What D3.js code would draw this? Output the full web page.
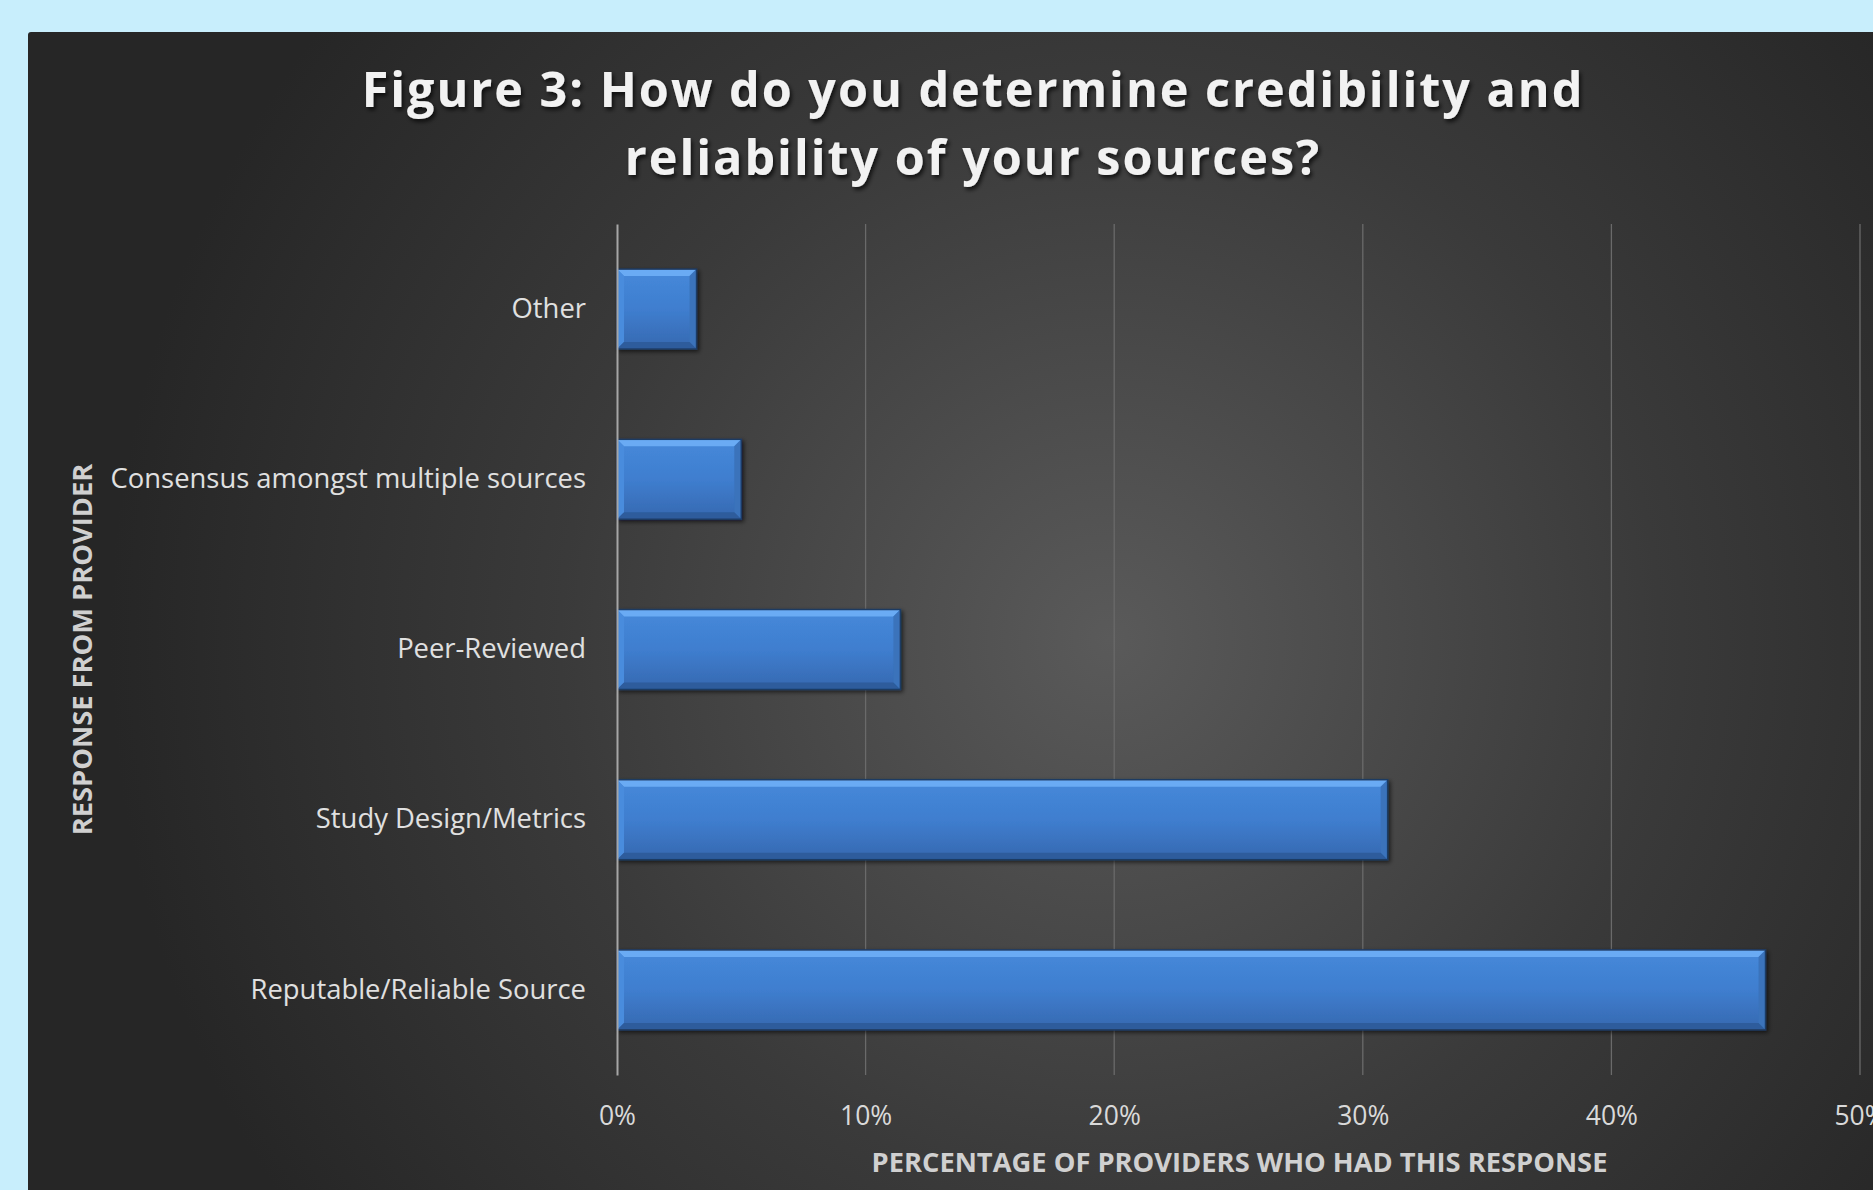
<!DOCTYPE html>
<meta charset="utf-8">
<script src="https://d3js.org/d3.v7.min.js"></script>
<style>
  html, body { margin: 0; padding: 0; background: #c8eefc; overflow: hidden; }
  svg { display: block; font-family: 'Open Sans', sans-serif; }
</style>
<body>
<div id="chart"></div>
<script>
  // data (percent of providers)
  var categories = ["Other", "Consensus amongst multiple sources", "Peer-Reviewed", "Study Design/Metrics", "Reputable/Reliable Source"];
  var values = [3.2, 5.0, 11.4, 31.0, 46.2];
  var tickValues = [0, 10, 20, 30, 40, 50];
  var titleLines = ["Figure 3: How do you determine credibility and", "reliability of your sources?"];
  var xTitle = "PERCENTAGE OF PROVIDERS WHO HAD THIS RESPONSE";
  var yTitle = "RESPONSE FROM PROVIDER";

  var W = 1873, H = 1190;
  var margin = { top: 224, right: 13, bottom: 115, left: 617 },
      width = W - margin.left - margin.right,
      height = H - margin.top - margin.bottom;

  var svg = d3.select("#chart").append("svg")
      .attr("width", W).attr("height", H);

  var defs = svg.append("defs");
  var bg = defs.append("radialGradient").attr("id", "bg")
      .attr("gradientUnits", "userSpaceOnUse")
      .attr("cx", 1110).attr("cy", 640).attr("r", 1000);
  bg.append("stop").attr("offset", "0").attr("stop-color", "#5a5a5a");
  bg.append("stop").attr("offset", "0.55").attr("stop-color", "#3a3a3a");
  bg.append("stop").attr("offset", "1").attr("stop-color", "#262626");

  var barGrad = defs.append("linearGradient").attr("id", "barFill")
      .attr("x1", 0).attr("y1", 0).attr("x2", 0).attr("y2", 1);
  barGrad.append("stop").attr("offset", "0").attr("stop-color", "#4689da");
  barGrad.append("stop").attr("offset", "0.5").attr("stop-color", "#3f7ecf");
  barGrad.append("stop").attr("offset", "1").attr("stop-color", "#3668b0");

  var shadow = defs.append("filter").attr("id", "shadow")
      .attr("x", "-10%").attr("y", "-20%").attr("width", "130%").attr("height", "160%");
  shadow.append("feDropShadow").attr("dx", 2).attr("dy", 2).attr("stdDeviation", 2)
      .attr("flood-color", "#000").attr("flood-opacity", 0.6);

  var tshadow = defs.append("filter").attr("id", "tshadow");
  tshadow.append("feDropShadow").attr("dx", 2).attr("dy", 3).attr("stdDeviation", 2)
      .attr("flood-color", "#000").attr("flood-opacity", 0.7);

  // panel
  svg.append("rect")
      .attr("x", 28).attr("y", 32)
      .attr("width", W).attr("height", H)
      .attr("rx", 3)
      .attr("fill", "url(#bg)");

  // title
  svg.append("g").selectAll("text")
      .data(titleLines)
      .enter().append("text")
      .attr("x", 973)
      .attr("y", function (d, i) { return 107 + i * 68; })
      .attr("text-anchor", "middle")
      .attr("fill", "#f2f2f2")
      .style("font-size", "48.5px")
      .style("font-weight", "bold")
      .style("letter-spacing", "2px")
      .attr("filter", "url(#tshadow)")
      .text(function (d) { return d; });

  var g = svg.append("g")
      .attr("transform", "translate(" + margin.left + "," + margin.top + ")");

  // 0% at x=617, 50% at x=1860
  var x = d3.scaleLinear().domain([0, 50]).range([0, 1243]);

  var y = d3.scaleBand()
      .domain(categories)
      .range([0, height])
      .paddingInner(0.53)
      .paddingOuter(0.265);

  // gridlines
  g.append("g").selectAll("line")
      .data(tickValues.slice(1))
      .enter().append("line")
      .attr("x1", function (d) { return x(d); })
      .attr("x2", function (d) { return x(d); })
      .attr("y1", 0).attr("y2", height)
      .attr("stroke", "#6a6a6a")
      .attr("stroke-width", 1.3);

  // x axis labels
  var xAxis = g.append("g")
      .attr("transform", "translate(0," + height + ")")
      .call(d3.axisBottom(x).tickValues(tickValues)
          .tickFormat(function (d) { return d + "%"; })
          .tickSize(0).tickPadding(31));
  xAxis.attr("font-family", null).attr("font-size", null);
  xAxis.select(".domain").remove();
  xAxis.selectAll("text")
      .attr("fill", "#d9d9d9")
      .style("font-size", "26.5px");

  // bars
  var bars = g.append("g").selectAll("g")
      .data(values)
      .enter().append("g")
      .attr("filter", "url(#shadow)");

  var bv = 7;
  bars.append("rect")
      .attr("x", 0)
      .attr("y", function (d, i) { return y(categories[i]); })
      .attr("width", function (d) { return x(d); })
      .attr("height", y.bandwidth())
      .attr("fill", "url(#barFill)");

  function bevel(color, pts) {
    bars.append("polygon")
        .attr("fill", color)
        .attr("points", function (d, i) {
          var x0 = 0, x1 = x(d), y0 = y(categories[i]), y1 = y0 + y.bandwidth();
          return pts(x0, x1, y0, y1).map(function (p) { return p.join(","); }).join(" ");
        });
  }
  bevel("#6aabf4", function (x0, x1, y0, y1) {
    return [[x0, y0], [x1, y0], [x1 - bv, y0 + bv], [x0 + bv, y0 + bv]];
  });
  bevel("#4a8cdd", function (x0, x1, y0, y1) {
    return [[x0, y0], [x0 + bv, y0 + bv], [x0 + bv, y1 - bv], [x0, y1]];
  });
  bevel("#3a73bb", function (x0, x1, y0, y1) {
    return [[x1, y0], [x1, y1], [x1 - bv, y1 - bv], [x1 - bv, y0 + bv]];
  });
  bevel("#2d5c9c", function (x0, x1, y0, y1) {
    return [[x0, y1], [x0 + bv, y1 - bv], [x1 - bv, y1 - bv], [x1, y1]];
  });
  bars.append("rect")
      .attr("x", 0)
      .attr("y", function (d, i) { return y(categories[i]); })
      .attr("width", function (d) { return x(d); })
      .attr("height", y.bandwidth())
      .attr("fill", "none")
      .attr("stroke", "#1f3b63")
      .attr("stroke-width", 1.5);

  // y axis
  var yAxis = g.append("g")
      .call(d3.axisLeft(y).tickSize(0).tickPadding(31));
  yAxis.attr("font-family", null).attr("font-size", null);
  yAxis.select(".domain")
      .attr("stroke", "#a6a6a6")
      .attr("stroke-width", 2);
  yAxis.selectAll("text")
      .attr("fill", "#e0e0e0")
      .style("font-size", "27.4px");

  // axis titles
  g.append("text")
      .attr("x", width / 2 + 1)
      .attr("y", height + 97)
      .attr("text-anchor", "middle")
      .attr("fill", "#d0d0d0")
      .style("font-size", "27.3px")
      .style("font-weight", "bold")
      .text(xTitle);

  svg.append("text")
      .attr("transform", "translate(92," + (margin.top + height / 2) + ") rotate(-90)")
      .attr("text-anchor", "middle")
      .attr("fill", "#d0d0d0")
      .style("font-size", "27.3px")
      .style("font-weight", "bold")
      .text(yTitle);
</script>
</body>
